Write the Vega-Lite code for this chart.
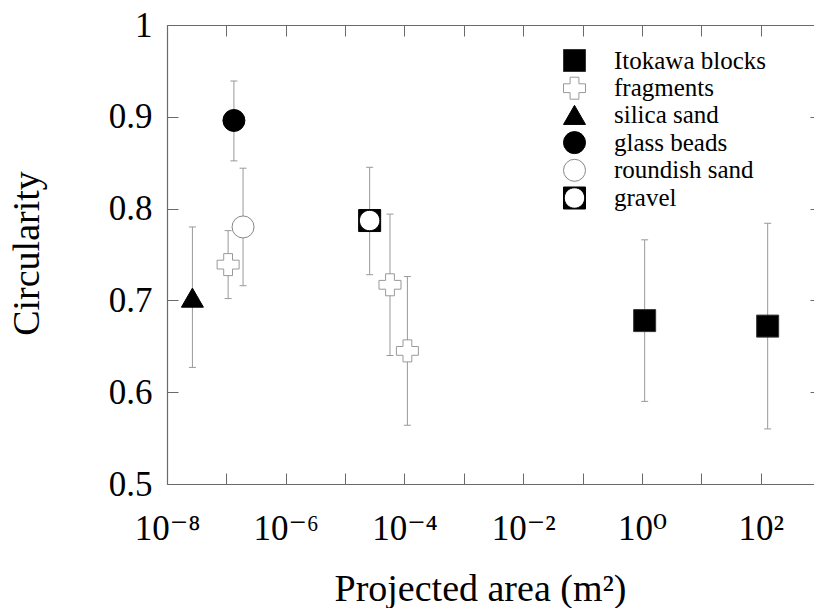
{
  "$schema": "https://vega.github.io/schema/vega-lite/v6.json",
  "width": 647,
  "height": 459,
  "autosize": {"type": "none"},
  "padding": {"left": 167, "top": 25, "right": 0, "bottom": 124},
  "config": {
    "font": "Liberation Serif",
    "view": {"stroke": null},
    "style": {"guide-label": {"font": "Liberation Serif"}, "guide-title": {"font": "Liberation Serif"}},
    "axis": {"grid": false, "labelFont": "Liberation Serif, DejaVu Serif", "titleFont": "Liberation Serif, DejaVu Serif", "domainColor": "#6a6a6a", "tickColor": "#6a6a6a", "labelColor": "black", "titleColor": "black", "titleFontWeight": "normal", "labelFlush": false, "labelOverlap": false, "tickSize": -11, "domainWidth": 1.2, "tickWidth": 1},
    "legend": {"labelFont": "Times New Roman, Liberation Serif, serif", "labelFontSize": 25, "labelColor": "black", "title": null, "orient": "none", "legendX": 395, "legendY": 23, "symbolSize": 484, "symbolStrokeWidth": 1, "labelOffset": 27, "rowPadding": 0.7, "padding": 0, "labelLimit": 400}
  },
  "data": {
    "values": [
      {"type": "Itokawa blocks", "area": 1.11, "c": 0.678, "lo": 0.590, "hi": 0.766},
      {"type": "Itokawa blocks", "area": 131, "c": 0.672, "lo": 0.560, "hi": 0.784},
      {"type": "fragments", "area": 1.07e-7, "c": 0.739, "lo": 0.702, "hi": 0.776},
      {"type": "fragments", "area": 5.7e-5, "c": 0.717, "lo": 0.640, "hi": 0.794},
      {"type": "fragments", "area": 1.12e-4, "c": 0.645, "lo": 0.564, "hi": 0.726},
      {"type": "silica sand", "area": 2.68e-8, "c": 0.703, "lo": 0.627, "hi": 0.780},
      {"type": "glass beads", "area": 1.34e-7, "c": 0.896, "lo": 0.852, "hi": 0.939},
      {"type": "roundish sand", "area": 1.91e-7, "c": 0.780, "lo": 0.716, "hi": 0.844},
      {"type": "gravel", "area": 2.59e-5, "c": 0.787, "lo": 0.728, "hi": 0.845}
    ]
  },
  "resolve": {"axis": {"x": "independent", "y": "independent"}},
  "layer": [
    {
      "mark": {"type": "rule", "color": "#999999", "strokeWidth": 1},
      "encoding": {
        "x": {
          "field": "area", "type": "quantitative",
          "scale": {"type": "log", "domain": [1e-8, 790], "nice": false},
          "axis": {
            "orient": "bottom",
            "values": [1e-8, 1e-7, 1e-6, 1e-5, 1e-4, 1e-3, 1e-2, 1e-1, 1, 10, 100],
            "labelExpr": "round(log(datum.value)/LN10) == -8 ? '10⁻⁸' : round(log(datum.value)/LN10) == -6 ? '10⁻⁶' : round(log(datum.value)/LN10) == -4 ? '10⁻⁴' : round(log(datum.value)/LN10) == -2 ? '10⁻²' : round(log(datum.value)/LN10) == 0 ? '10⁰' : round(log(datum.value)/LN10) == 2 ? '10²' : ''",
            "labelFontSize": 35,
            "labelPadding": 38,
            "labelBaseline": "top",
            "title": "Projected area (m²)",
            "titleFontSize": 38,
            "titleX": 313,
            "titleY": 116,
            "titleBaseline": "alphabetic",
            "titleAlign": "center"
          }
        },
        "y": {
          "field": "lo", "type": "quantitative",
          "scale": {"domain": [0.5, 1], "zero": false, "nice": false},
          "axis": {
            "orient": "left",
            "values": [0.5, 0.6, 0.7, 0.8, 0.9, 1],
            "format": ".1~f",
            "labelFontSize": 35,
            "labelPadding": 26,
            "title": "Circularity",
            "titleFontSize": 38,
            "titleAngle": 270,
            "titleX": -129,
            "titleY": 228,
            "titleBaseline": "alphabetic",
            "titleAlign": "center"
          }
        },
        "y2": {"field": "hi"}
      }
    },
    {
      "transform": [{"fold": ["lo", "hi"], "as": ["end", "v"]}],
      "mark": {"type": "tick", "orient": "horizontal", "color": "#999999", "size": 7, "thickness": 1, "opacity": 1},
      "encoding": {
        "x": {
          "field": "area", "type": "quantitative",
          "scale": {"type": "log", "domain": [1e-8, 790], "nice": false},
          "axis": {
            "orient": "top",
            "values": [1e-8, 1e-7, 1e-6, 1e-5, 1e-4, 1e-3, 1e-2, 1e-1, 1, 10, 100],
            "labels": false,
            "title": null
          }
        },
        "y": {
          "field": "v", "type": "quantitative",
          "scale": {"domain": [0.5, 1], "zero": false, "nice": false},
          "axis": {
            "orient": "right",
            "values": [0.5, 0.6, 0.7, 0.8, 0.9, 1],
            "labels": false,
            "title": null,
            "offset": 7
          }
        }
      }
    },
    {
      "transform": [{"filter": "datum.type == 'gravel'"}],
      "mark": {"type": "point", "shape": "circle", "filled": true, "fill": "white", "opacity": 1, "size": 441, "strokeWidth": 0},
      "encoding": {
        "x": {"field": "area", "type": "quantitative", "scale": {"type": "log", "domain": [1e-8, 790], "nice": false}, "axis": null},
        "y": {"field": "c", "type": "quantitative", "scale": {"domain": [0.5, 1], "zero": false, "nice": false}, "axis": null}
      }
    },
    {
      "mark": {"type": "point", "filled": true, "opacity": 1, "size": 484, "strokeWidth": 1},
      "encoding": {
        "x": {"field": "area", "type": "quantitative", "scale": {"type": "log", "domain": [1e-8, 790], "nice": false}, "axis": null},
        "y": {"field": "c", "type": "quantitative", "scale": {"domain": [0.5, 1], "zero": false, "nice": false}, "axis": null},
        "shape": {
          "field": "type", "type": "nominal",
          "scale": {
            "domain": ["Itokawa blocks", "fragments", "silica sand", "glass beads", "roundish sand", "gravel"],
            "range": ["square", "cross", "triangle-up", "circle", "circle", "M-1,-1H1V1H-1Z M0.93,0A0.93,0.93 0 1 0 -0.93,0A0.93,0.93 0 1 0 0.93,0Z"]
          }
        },
        "fill": {
          "field": "type", "type": "nominal",
          "scale": {
            "domain": ["Itokawa blocks", "fragments", "silica sand", "glass beads", "roundish sand", "gravel"],
            "range": ["black", "white", "black", "black", "white", "black"]
          }
        },
        "stroke": {
          "field": "type", "type": "nominal",
          "scale": {
            "domain": ["Itokawa blocks", "fragments", "silica sand", "glass beads", "roundish sand", "gravel"],
            "range": ["#333333", "#999999", "black", "black", "#888888", "black"]
          }
        }
      }
    }
  ]
}
